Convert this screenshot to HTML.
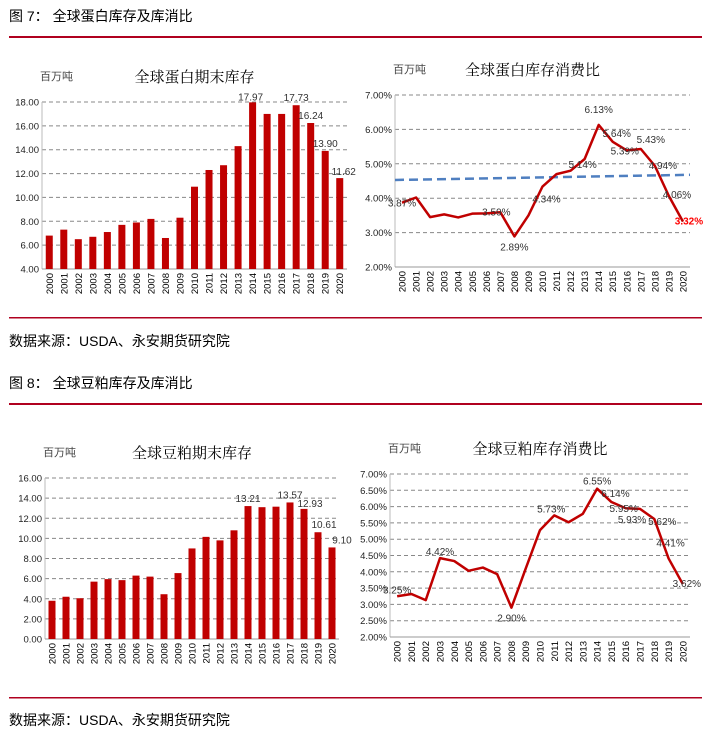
<!DOCTYPE html>
<html><head><meta charset="utf-8"><style>
body{margin:0;background:#fff;width:711px;height:740px;overflow:hidden;font-family:"Liberation Sans","Noto Sans CJK SC",sans-serif}
svg{position:absolute;left:0;top:0}
</style></head><body>
<svg id="s" width="711" height="740" font-family="Liberation Sans, Noto Sans CJK SC, sans-serif">
<text x="9" y="21" font-size="14" fill="#000">图 7：  全球蛋白库存及库消比</text>
<rect x="9" y="36" width="693" height="2" fill="#b0001f"/>
<rect x="9" y="317" width="693" height="1.5" fill="#b0001f"/>
<text x="9" y="346" font-size="14" fill="#000">数据来源：USDA、永安期货研究院</text>
<text x="9" y="388" font-size="14" fill="#000">图 8：  全球豆粕库存及库消比</text>
<rect x="9" y="403" width="693" height="2" fill="#b0001f"/>
<rect x="9" y="697" width="693" height="1.5" fill="#b0001f"/>
<text x="9" y="725" font-size="14" fill="#000">数据来源：USDA、永安期货研究院</text>
</svg>
<script>
const years=["2000","2001","2002","2003","2004","2005","2006","2007","2008","2009","2010","2011","2012","2013","2014","2015","2016","2017","2018","2019","2020"];
const proteinStock=[6.8,7.3,6.5,6.7,7.1,7.7,7.9,8.2,6.6,8.3,10.9,12.3,12.7,14.3,17.97,17.0,17.0,17.73,16.24,13.90,11.62];
const proteinStockLabels={14:"17.97",17:"17.73",18:"16.24",19:"13.90",20:"11.62"};
const proteinStockTicks=[4,6,8,10,12,14,16,18];
const proteinRatio=[3.87,4.02,3.45,3.53,3.44,3.55,3.56,3.59,2.89,3.50,4.34,4.70,4.80,5.14,6.13,5.64,5.39,5.43,4.94,4.06,3.32];
const proteinRatioLabels={0:"3.87%",7:"3.59%",8:"2.89%",10:"4.34%",13:"5.14%",14:"6.13%",15:"5.64%",16:"5.39%",17:"5.43%",18:"4.94%",19:"4.06%",20:"3.32%"};
const proteinRatioTicks=[2,3,4,5,6,7];
const proteinTrend=[4.53,4.68];
const mealStock=[3.8,4.2,4.05,5.7,5.95,5.85,6.3,6.2,4.45,6.55,9.0,10.15,9.8,10.8,13.21,13.1,13.15,13.57,12.93,10.61,9.10];
const mealStockLabels={14:"13.21",17:"13.57",18:"12.93",19:"10.61",20:"9.10"};
const mealStockTicks=[0,2,4,6,8,10,12,14,16];
const mealRatio=[3.25,3.32,3.13,4.42,4.33,4.03,4.13,3.93,2.90,4.10,5.28,5.73,5.52,5.78,6.55,6.14,5.95,5.93,5.62,4.41,3.62];
const mealRatioLabels={0:"3.25%",3:"4.42%",8:"2.90%",11:"5.73%",14:"6.55%",15:"6.14%",16:"5.95%",17:"5.93%",18:"5.62%",19:"4.41%",20:"3.62%"};
const mealRatioTicks=[2,2.5,3,3.5,4,4.5,5,5.5,6,6.5,7];
const NS="http://www.w3.org/2000/svg";
const svg=document.getElementById('s');
function mk(tag,attrs,parent){const e=document.createElementNS(NS,tag);for(const k in attrs)e.setAttribute(k,attrs[k]);(parent||svg).appendChild(e);return e;}
function chart(o){
 const g=mk('g',{});
 
 
 const n=years.length,slot=(o.x1-o.x0)/n;
 const X=i=>o.x0+slot*(i+0.5);
 const lo=o.ticks[0],hi=o.ticks[o.ticks.length-1];
 const Y=v=>o.y1-(v-lo)/(hi-lo)*(o.y1-o.y0);
 let t=mk('text',{x:o.x0-2,y:o.y0-22,'font-size':11,fill:'#444'},g);t.textContent='百万吨';
 
 t=mk('text',{x:(o.x0+o.x1)/2+o.tdx,y:o.y0-20,'font-size':15,'text-anchor':'middle','font-family':'Liberation Serif, Noto Serif CJK SC, serif'},g);t.textContent=o.title;
 
 o.ticks.forEach(v=>{
  const l=mk('line',{x1:o.x0,x2:o.x1,y1:Y(v),y2:Y(v),stroke:'#888','stroke-dasharray':'4,3','stroke-width':1},g);
  
  const tx=mk('text',{x:o.x0-3,y:Y(v)+3.5,'font-size':9.5,'text-anchor':'end',fill:'#222'},g);
  tx.textContent=o.pct?v.toFixed(2)+'%':v.toFixed(2);
  
 });
 let a=mk('line',{x1:o.x0,x2:o.x0,y1:o.y0,y2:o.y1,stroke:'#bbb'},g);
 a=mk('line',{x1:o.x0,x2:o.x1,y1:o.y1,y2:o.y1,stroke:'#999'},g);
 years.forEach((yr,i)=>{
  const tx=mk('text',{x:0,y:0,'font-size':9.5,'text-anchor':'end',transform:`translate(${X(i)+3.5},${o.y1+4}) rotate(-90)`},g);
  tx.textContent=yr;
 });
 if(o.type==='bar'){
  o.data.forEach((v,i)=>{
   const r=mk('rect',{x:X(i)-3.5,y:Y(v),width:7,height:o.y1-Y(v),fill:'#c00000'},g);
   
  });
 }else{
  if(o.trend){const l=mk('line',{x1:o.x0,x2:o.x1,y1:Y(o.trend[0]),y2:Y(o.trend[1]),stroke:'#4f7fc0','stroke-width':2.5,'stroke-dasharray':'9,5'},g);
   }
  const p=mk('polyline',{points:o.data.map((v,i)=>X(i)+','+Y(v)).join(' '),fill:'none',stroke:'#c00000','stroke-width':2.5,'stroke-linejoin':'round'},g);
  
 }
 for(const k in o.labels){
  const i=+k,v=o.data[i];const off=(o.offs&&o.offs[k])||[0,-4];
  const red=o.redLast&&i===n-1;
  const tx=mk('text',{x:X(i)+off[0],y:Y(v)+off[1],'font-size':10,'text-anchor':'middle',fill:red?'#ff0000':'#333','font-weight':red?'bold':'normal'},g);
  tx.textContent=o.labels[k];
 }
}
chart({name:'protein-stock-chart',title:'全球蛋白期末库存',tdx:0,type:'bar',data:proteinStock,labels:proteinStockLabels,ticks:proteinStockTicks,x0:42,x1:347,y0:102,y1:269,offs:{14:[-2,-2],20:[4,-3]}});
chart({name:'protein-ratio-chart',title:'全球蛋白库存消费比',tdx:-10,type:'line',pct:true,data:proteinRatio,labels:proteinRatioLabels,ticks:proteinRatioTicks,trend:proteinTrend,x0:395,x1:690,y0:95,y1:267,redLast:true,
 offs:{0:[0,4],7:[-4,3],8:[0,14],10:[4,16],13:[-2,9],14:[0,-12],15:[4,-5],16:[-2,4],17:[10,-6],18:[8,3],19:[8,2],20:[6,3]}});
chart({name:'meal-stock-chart',title:'全球豆粕期末库存',tdx:0,type:'bar',data:mealStock,labels:mealStockLabels,ticks:mealStockTicks,x0:45,x1:339,y0:478,y1:639,offs:{18:[6,-2],19:[6,-4],20:[10,-4]}});
chart({name:'meal-ratio-chart',title:'全球豆粕库存消费比',tdx:0,type:'line',pct:true,data:mealRatio,labels:mealRatioLabels,ticks:mealRatioTicks,x0:390,x1:690,y0:474,y1:637,
 offs:{0:[0,-3],3:[0,-3],8:[0,14],11:[-3,-3],14:[0,-4],15:[4,-5],16:[-2,4],17:[-8,14],18:[8,6],19:[2,-12],20:[4,3]}});
</script>
</body></html>
